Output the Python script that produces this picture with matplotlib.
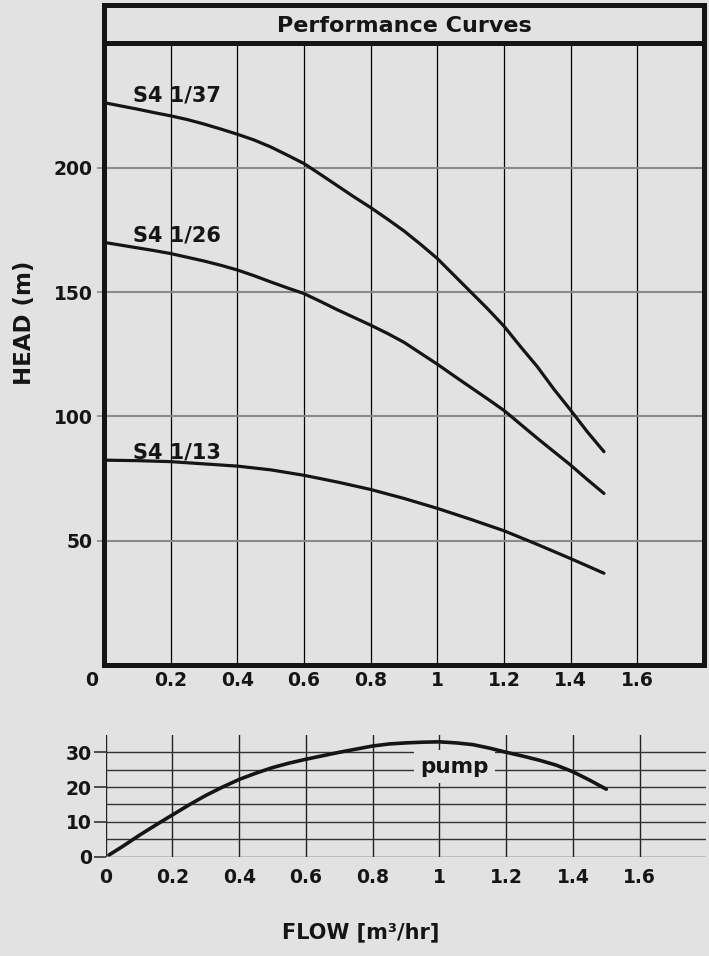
import matplotlib
matplotlib.use("Agg")
import matplotlib.pyplot as plt
from matplotlib.transforms import ScaledTranslation

# values
flow_fine = [0.0, 0.05, 0.1, 0.15, 0.2, 0.25, 0.3, 0.35, 0.4, 0.45, 0.5, 0.55, 0.6, 0.65,
             0.7, 0.75, 0.8, 0.85, 0.9, 0.95, 1.0, 1.05, 1.1, 1.15, 1.2, 1.25, 1.3, 1.35,
             1.4, 1.45, 1.5]
head_s4_1_37 = [226.2, 224.9, 223.6, 222.2, 220.9, 219.4, 217.6, 215.6, 213.5, 211.2,
                208.4, 205.1, 201.7, 197.3, 192.8, 188.3, 184.0, 179.4, 174.6, 169.2,
                163.5, 156.8, 150.1, 143.4, 136.3, 128.0, 120.0, 110.9, 102.5, 93.8, 85.8]
head_s4_1_26 = [170.0, 168.9, 167.8, 166.7, 165.5, 164.0, 162.5, 160.8, 158.9, 156.6,
                154.1, 151.7, 149.4, 146.2, 142.9, 139.8, 136.7, 133.4, 129.8, 125.4,
                121.0, 116.3, 111.7, 107.1, 102.4, 96.8, 91.2, 85.8, 80.4, 74.6, 69.0]
flow = [0.0, 0.1, 0.2, 0.3, 0.4, 0.5, 0.6, 0.7, 0.8, 0.9, 1.0, 1.1, 1.2, 1.3, 1.4, 1.5]
head_s4_1_13 = [82.4, 82.2, 81.8, 80.9, 80.0, 78.5, 76.3, 73.6, 70.6, 67.0,
                63.0, 58.6, 54.0, 48.5, 42.8, 36.9]
curve_names = ["S4 1/37", "S4 1/26", "S4 1/13"]

pump_flow = [0.01, 0.05, 0.1, 0.15, 0.2, 0.25, 0.3, 0.35, 0.4, 0.45, 0.5, 0.55, 0.6, 0.65,
             0.7, 0.75, 0.8, 0.85, 0.9, 0.95, 1.0, 1.05, 1.1, 1.15, 1.2, 1.25, 1.3, 1.35,
             1.4, 1.45, 1.5]
pump_eff = [0.5, 2.9, 6.1, 9.1, 12.0, 14.9, 17.6, 20.0, 22.2, 24.0, 25.6, 26.9, 28.0, 29.0,
            30.0, 30.9, 31.8, 32.4, 32.7, 32.9, 33.0, 32.7, 32.2, 31.2, 30.0, 28.9, 27.7,
            26.3, 24.4, 22.0, 19.4]

x_ticks = [0, 0.2, 0.4, 0.6, 0.8, 1.0, 1.2, 1.4, 1.6]
x_labels = ["0", "0.2", "0.4", "0.6", "0.8", "1", "1.2", "1.4", "1.6"]
head_ticks = [50, 100, 150, 200]
pump_ticks = [0, 10, 20, 30]

BG = "#e2e2e2"
INK = "#151515"

plt.rcParams["font.family"] = ["DejaVu Sans"]
plt.rcParams["font.weight"] = "bold"

fig = plt.figure(figsize=(7.09, 9.56), dpi=100, facecolor=BG)

# main head chart
ax = fig.add_axes([0.1467, 0.3044, 0.8462, 0.6501])
ax.set_facecolor(BG)
ax.set_xlim(0, 1.8)
ax.set_ylim(0, 250)
ax.plot(flow_fine, head_s4_1_37, color=INK, lw=2.3, solid_capstyle="round", zorder=3)
ax.plot(flow_fine, head_s4_1_26, color=INK, lw=2.3, solid_capstyle="round", zorder=3)
ax.plot(flow, head_s4_1_13, color=INK, lw=2.3, solid_capstyle="round", zorder=3)

# curve labels, just above the start of each curve
for name, heads in zip(curve_names, (head_s4_1_37, head_s4_1_26, head_s4_1_13)):
    ax.text(0.088, heads[0] + 0.5, name, fontsize=15, color=INK,
            ha="left", va="baseline", zorder=4)

ax.set_xticks(x_ticks)
ax.set_xticklabels(x_labels)
ax.set_yticks(head_ticks)
ax.tick_params(axis="x", length=0, pad=4, labelsize=13.5, labelcolor=INK)
ax.tick_params(axis="y", length=5, width=1.2, color="#8a8a8a", pad=3,
               labelsize=13.5, labelcolor=INK)
ax.grid(axis="x", color="black", lw=0.9)
ax.grid(axis="y", color="#8a8a8a", lw=1.5)
ax.set_axisbelow(True)
for sp in ax.spines.values():
    sp.set_linewidth(3.6)
    sp.set_color(INK)

# move the shared "0" a little to the left, as in the original
zero = ax.get_xticklabels()[0]
zero.set_transform(zero.get_transform() + ScaledTranslation(-12 / 100, 0, fig.dpi_scale_trans))

# title band on top of the main chart
ax_t = fig.add_axes([0.1467, 0.9545, 0.8462, 0.0400])
ax_t.set_facecolor(BG)
ax_t.set_xticks([])
ax_t.set_yticks([])
for sp in ax_t.spines.values():
    sp.set_linewidth(3.6)
    sp.set_color(INK)
ax_t.text(0.5, 0.45, "Performance Curves", transform=ax_t.transAxes,
          ha="center", va="center", fontsize=16, color=INK)

fig.text(24 / 709, 1 - 323 / 956, "HEAD (m)", rotation=90, ha="center", va="center",
         fontsize=16.5, color=INK)

# pump chart
ax2 = fig.add_axes([0.1491, 0.1039, 0.8472, 0.1274])
ax2.set_facecolor(BG)
ax2.set_xlim(0, 1.8)
ax2.set_ylim(0, 35)
ax2.plot(pump_flow, pump_eff, color=INK, lw=2.6, solid_capstyle="round", zorder=3)
ax2.text(1.046, 25.8, "pump", fontsize=15.5, color=INK, ha="center", va="center",
         zorder=2, bbox=dict(boxstyle="square,pad=0.3", fc=BG, ec="none"))

ax2.set_xticks(x_ticks)
ax2.set_xticklabels(x_labels)
ax2.set_yticks(pump_ticks)
ax2.set_yticks([5, 15, 25], minor=True)
ax2.tick_params(axis="x", length=0, pad=8, labelsize=13.5, labelcolor=INK)
ax2.tick_params(axis="y", which="major", length=9, width=1.2, color="#333333", pad=1,
                labelsize=13.5, labelcolor=INK)
ax2.tick_params(axis="y", which="minor", length=0)
ax2.grid(axis="x", color="#222222", lw=1.0)
ax2.grid(axis="y", which="both", color="#333333", lw=1.0)
ax2.set_axisbelow(True)
for sp in ax2.spines.values():
    sp.set_visible(False)

fig.text(361 / 709, 1 - 932 / 956, "FLOW [m³/hr]", ha="center", va="center",
         fontsize=15, color=INK)

fig.savefig("out.png", dpi=100, facecolor=BG)
